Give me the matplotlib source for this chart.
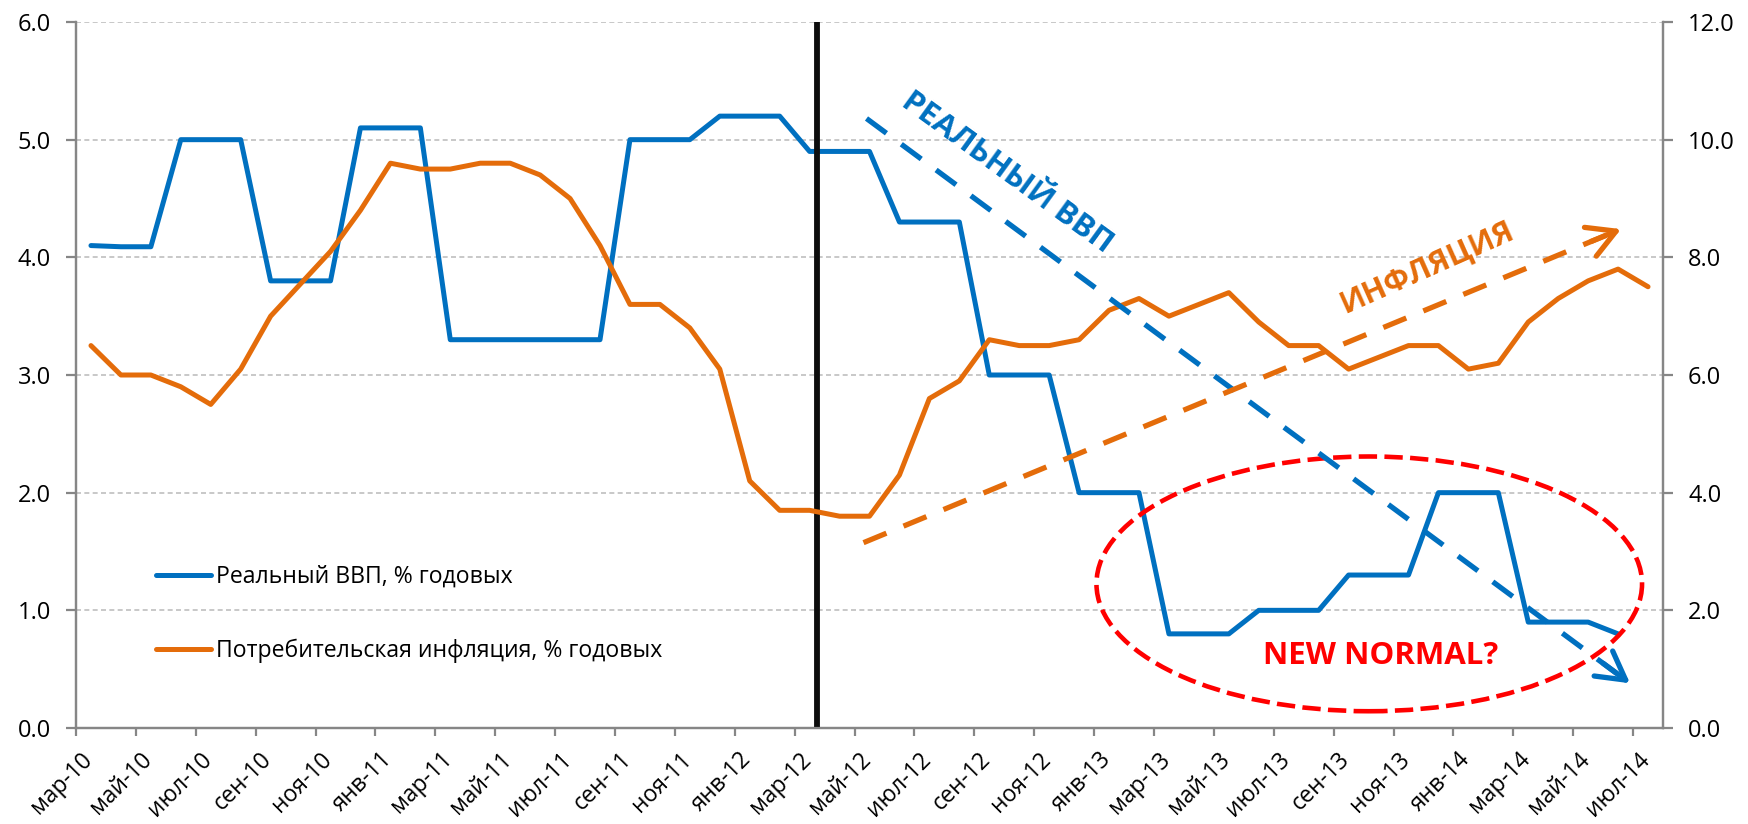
import matplotlib
matplotlib.use('Agg')
import matplotlib.pyplot as plt
import matplotlib.transforms as mtransforms
from matplotlib.patches import Ellipse

plt.rcParams['font.family'] = ['Open Sans', 'DejaVu Sans']

# monthly data, мар-10 .. июл-14
gdp = [4.1, 4.09, 4.09, 5.0, 5.0, 5.0, 3.8, 3.8, 3.8, 5.1, 5.1, 5.1,
       3.3, 3.3, 3.3, 3.3, 3.3, 3.3, 5.0, 5.0, 5.0, 5.2, 5.2, 5.2,
       4.9, 4.9, 4.9, 4.3, 4.3, 4.3, 3.0, 3.0, 3.0, 2.0, 2.0, 2.0,
       0.8, 0.8, 0.8, 1.0, 1.0, 1.0, 1.3, 1.3, 1.3, 2.0, 2.0, 2.0,
       0.9, 0.9, 0.9, 0.8]
cpi = [6.5, 6.0, 6.0, 5.8, 5.5, 6.1, 7.0, 7.55, 8.1, 8.8, 9.6, 9.5,
       9.5, 9.6, 9.6, 9.4, 9.0, 8.2, 7.2, 7.2, 6.8, 6.1, 4.2, 3.7,
       3.7, 3.6, 3.6, 4.3, 5.6, 5.9, 6.6, 6.5, 6.5, 6.6, 7.1, 7.3,
       7.0, 7.2, 7.4, 6.9, 6.5, 6.5, 6.1, 6.3, 6.5, 6.5, 6.1, 6.2,
       6.9, 7.3, 7.6, 7.8, 7.5]
tick_labels = ['мар-10', 'май-10', 'июл-10', 'сен-10', 'ноя-10', 'янв-11',
               'мар-11', 'май-11', 'июл-11', 'сен-11', 'ноя-11', 'янв-12',
               'мар-12', 'май-12', 'июл-12', 'сен-12', 'ноя-12', 'янв-13',
               'мар-13', 'май-13', 'июл-13', 'сен-13', 'ноя-13', 'янв-14',
               'мар-14', 'май-14', 'июл-14']
gdp_label = 'Реальный ВВП, % годовых'
cpi_label = 'Потребительская инфляция, % годовых'

blue = '#0070C0'
orange = '#E46C0A'
axis_grey = '#868686'

fig = plt.figure(figsize=(17.49, 8.24), dpi=100)
ax = fig.add_axes([0.04345, 0.1165, 0.90738, 0.8568])
ax2 = ax.twinx()

x_gdp = [i + 0.5 for i in range(len(gdp))]
x_cpi = [i + 0.5 for i in range(len(cpi))]

l1, = ax.plot(x_gdp, gdp, color=blue, lw=3.6, solid_capstyle='round', label=gdp_label)
l2, = ax2.plot(x_cpi, cpi, color=orange, lw=3.6, solid_capstyle='round', label=cpi_label)

ax.set_xlim(0, 53)
ax.set_ylim(0, 6)
ax2.set_ylim(0, 12)
ax.set_yticks([0, 1, 2, 3, 4, 5, 6])
ax2.set_yticks([0, 2, 4, 6, 8, 10, 12])
ax.set_yticklabels(['%.1f' % v for v in ax.get_yticks()])
ax2.set_yticklabels(['%.1f' % v for v in ax2.get_yticks()])
ax.set_xticks(range(0, 53, 2))
ax.set_xticklabels(tick_labels, rotation=45, ha='right', va='center',
                   rotation_mode='anchor')

ax.grid(axis='y', color='#BFBFBF', lw=1.2, linestyle=(0, (3, 2)))
ax.set_axisbelow(True)

for a in (ax, ax2):
    a.spines['top'].set_visible(False)
    for s in ('left', 'right', 'bottom'):
        a.spines[s].set_color(axis_grey)
        a.spines[s].set_linewidth(1.6)
ax.tick_params(axis='y', length=7, width=1.6, color=axis_grey, pad=11, labelsize=17)
ax2.tick_params(axis='y', length=7, width=1.6, color=axis_grey, pad=11, labelsize=17)
ax.tick_params(axis='x', length=6, width=1.6, color=axis_grey, pad=14, labelsize=16.5)

offset = mtransforms.ScaledTranslation(0.13, 0, fig.dpi_scale_trans)
for lbl in ax.get_xticklabels():
    lbl.set_transform(lbl.get_transform() + offset)

# vertical divider
ax.axvline(24.75, color='#0D0D0D', lw=4.2, zorder=5)

# annotations (right-axis units)
ax2.plot([26.4, 51.9], [10.36, 0.76], color=blue, lw=3.8, linestyle=(0, (4.7, 3.5)))
ax2.annotate('', xy=(51.9, 0.76), xytext=(51.0, 1.1),
             arrowprops=dict(arrowstyle='->,head_length=0.5,head_width=0.28',
                             color=blue, lw=3.8, mutation_scale=40,
                             shrinkA=0, shrinkB=0))
ax2.plot([26.3, 51.6], [3.15, 8.48], color=orange, lw=3.8, linestyle=(0, (4.7, 3.5)))
ax2.annotate('', xy=(51.6, 8.48), xytext=(50.6, 8.27),
             arrowprops=dict(arrowstyle='->,head_length=0.5,head_width=0.28',
                             color=orange, lw=3.8, mutation_scale=40,
                             shrinkA=0, shrinkB=0))
ax2.add_patch(Ellipse((43.19, 2.45), 18.22, 4.33, fill=False, edgecolor='#FF0000',
                      lw=3.3, linestyle=(0, (4, 1.6))))

ax2.text(31.1, 9.43, 'РЕАЛЬНЫЙ ВВП', color=blue, fontsize=22.5, fontweight='bold',
         rotation=-36, rotation_mode='anchor', ha='center', va='center')
ax2.text(45.13, 7.82, 'ИНФЛЯЦИЯ', color=orange, fontsize=22, fontweight='bold',
         rotation=24, rotation_mode='anchor', ha='center', va='center')
ax2.text(43.56, 1.22, 'NEW NORMAL?', color='#FF0000', fontsize=22.5, fontweight='bold',
         ha='center', va='center')

ax2.legend(handles=[l1, l2], loc='center left', bbox_to_anchor=(0.0504, 0.162),
           frameon=False, fontsize=16.6, handlelength=2.4, handletextpad=0.2,
           labelspacing=2.15, borderpad=0, borderaxespad=0)

fig.savefig('out.png', dpi=100, facecolor='white')
